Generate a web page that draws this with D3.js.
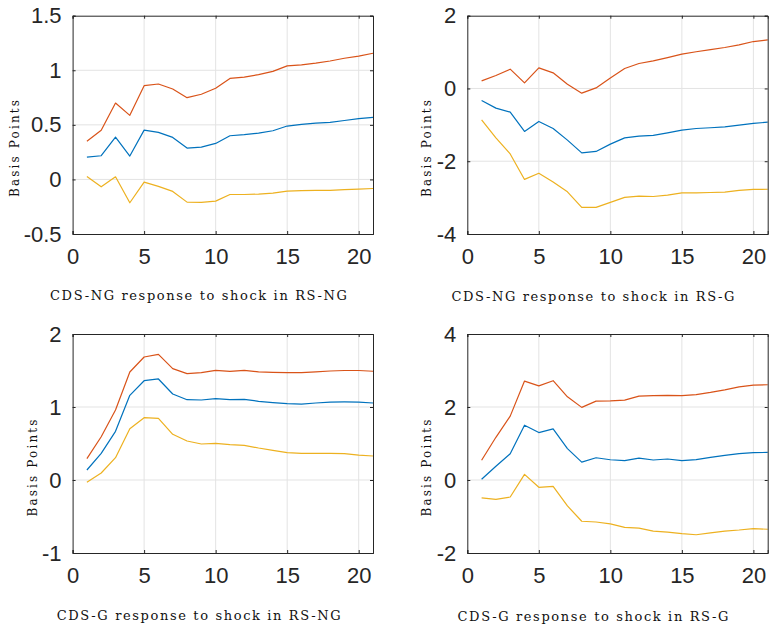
<!DOCTYPE html>
<html>
<head>
<meta charset="utf-8">
<script src="https://cdn.jsdelivr.net/npm/d3@7"></script>
<style>
  html, body { margin: 0; padding: 0; background: #fff; }
  svg { display: block; }
</style>
</head>
<body>
<script>
// ---------- data ----------
const horizons = [1,2,3,4,5,6,7,8,9,10,11,12,13,14,15,16,17,18,19,20,21];
const xTicks = [0,5,10,15,20];

const titles = [
  "CDS-NG response to shock in RS-NG",
  "CDS-NG response to shock in RS-G",
  "CDS-G response to shock in RS-NG",
  "CDS-G response to shock in RS-G"
];
const yLabel = "Basis Points";

const yTicks1 = [-0.5, 0, 0.5, 1, 1.5];
const yTicks2 = [-4, -2, 0, 2];
const yTicks3 = [-1, 0, 1, 2];
const yTicks4 = [-2, 0, 2, 4];

// panel 1: CDS-NG <- RS-NG
const p1Blue   = [0.205,0.217,0.388,0.214,0.452,0.431,0.385,0.287,0.296,0.33,0.40,0.41,0.425,0.446,0.489,0.505,0.515,0.523,0.54,0.557,0.569];
const p1Orange = [0.35,0.45,0.70,0.587,0.859,0.874,0.828,0.749,0.78,0.835,0.925,0.938,0.96,0.99,1.04,1.05,1.065,1.085,1.11,1.13,1.156];
const p1Yellow = [0.027,-0.068,0.024,-0.214,-0.025,-0.064,-0.11,-0.208,-0.211,-0.199,-0.138,-0.138,-0.135,-0.126,-0.107,-0.102,-0.10,-0.10,-0.093,-0.088,-0.083];

// panel 2: CDS-NG <- RS-G
const p2Blue   = [-0.33,-0.54,-0.65,-1.18,-0.907,-1.1,-1.42,-1.77,-1.73,-1.53,-1.357,-1.31,-1.29,-1.22,-1.146,-1.1,-1.08,-1.055,-1.01,-0.96,-0.926];
const p2Orange = [0.209,0.357,0.53,0.154,0.566,0.43,0.118,-0.129,0.016,0.29,0.55,0.687,0.76,0.85,0.942,1.01,1.07,1.126,1.2,1.29,1.335];
const p2Yellow = [-0.862,-1.36,-1.8,-2.5,-2.33,-2.57,-2.84,-3.27,-3.27,-3.13,-2.995,-2.96,-2.97,-2.93,-2.87,-2.87,-2.86,-2.85,-2.8,-2.775,-2.77];

// panel 3: CDS-G <- RS-NG
const p3Blue   = [0.137,0.365,0.667,1.16,1.36,1.384,1.178,1.1,1.096,1.114,1.1,1.105,1.078,1.06,1.046,1.04,1.055,1.068,1.07,1.068,1.055];
const p3Orange = [0.292,0.593,0.959,1.479,1.685,1.72,1.525,1.457,1.47,1.502,1.489,1.502,1.48,1.475,1.47,1.47,1.48,1.493,1.5,1.5,1.49];
const p3Yellow = [-0.032,0.096,0.306,0.703,0.854,0.845,0.626,0.534,0.493,0.502,0.485,0.475,0.438,0.406,0.374,0.365,0.365,0.365,0.36,0.342,0.329];

// panel 4: CDS-G <- RS-G
const p4Blue   = [0.02,0.375,0.72,1.5,1.3,1.4,0.86,0.49,0.61,0.555,0.53,0.6,0.548,0.575,0.53,0.557,0.62,0.675,0.72,0.75,0.755];
const p4Orange = [0.54,1.17,1.75,2.71,2.58,2.72,2.28,1.99,2.16,2.17,2.19,2.3,2.31,2.32,2.31,2.34,2.4,2.47,2.55,2.6,2.61];
const p4Yellow = [-0.49,-0.53,-0.466,0.155,-0.2,-0.174,-0.71,-1.13,-1.15,-1.2,-1.3,-1.32,-1.4,-1.43,-1.47,-1.5,-1.45,-1.4,-1.37,-1.33,-1.35];

// ---------- layout ----------
const W = 769, H = 628;
const colors = ["#0072BD", "#D95319", "#EDB120"];
const axisColor = "#262626";
const gridColor = "#e3e3e3";

const panels = [
  { x0: 72.6,  x1: 373,   y0: 15.7, y1: 234, yDom: [-0.5, 1.5], yTicks: yTicks1, series: [p1Blue, p1Orange, p1Yellow],
    title: titles[0], tx: 198.5, ty: 295, tw: 297, lx: 15,  ly: 148.5 },
  { x0: 467.3, x1: 767.7, y0: 15.7, y1: 234, yDom: [-4, 2],     yTicks: yTicks2, series: [p2Blue, p2Orange, p2Yellow],
    title: titles[1], tx: 593,   ty: 296, tw: 283, lx: 427, ly: 148.5 },
  { x0: 72.6,  x1: 373,   y0: 334,  y1: 553, yDom: [-1, 2],     yTicks: yTicks3, series: [p3Blue, p3Orange, p3Yellow],
    title: titles[2], tx: 198.7, ty: 615, tw: 284, lx: 33,  ly: 468 },
  { x0: 467.3, x1: 767.7, y0: 334,  y1: 553, yDom: [-2, 4],     yTicks: yTicks4, series: [p4Blue, p4Orange, p4Yellow],
    title: titles[3], tx: 593,   ty: 616, tw: 271, lx: 427, ly: 468 }
];

const svg = d3.select("body").append("svg")
  .attr("width", W).attr("height", H)
  .attr("viewBox", `0 0 ${W} ${H}`);

svg.append("rect").attr("width", W).attr("height", H).attr("fill", "#fff");

const tickFont = "'Liberation Sans', Arial, Helvetica, sans-serif";
const serifFont = "'DejaVu Serif', 'Liberation Serif', serif";

panels.forEach((p) => {
  const x = d3.scaleLinear().domain([0, 21]).range([p.x0, p.x1]);
  const y = d3.scaleLinear().domain(p.yDom).range([p.y1, p.y0]);
  const g = svg.append("g");

  // grid
  g.append("g").selectAll("line").data(xTicks.filter(t => t > 0)).join("line")
    .attr("x1", d => x(d)).attr("x2", d => x(d))
    .attr("y1", p.y0).attr("y2", p.y1)
    .attr("stroke", gridColor).attr("stroke-width", 1);
  g.append("g").selectAll("line").data(p.yTicks.filter(t => t > p.yDom[0] && t < p.yDom[1])).join("line")
    .attr("x1", p.x0).attr("x2", p.x1)
    .attr("y1", d => y(d)).attr("y2", d => y(d))
    .attr("stroke", gridColor).attr("stroke-width", 1);

  // lines
  const line = d3.line().x((d, i) => x(horizons[i])).y(d => y(d));
  p.series.forEach((s, k) => {
    g.append("path").datum(s)
      .attr("d", line)
      .attr("fill", "none")
      .attr("stroke", colors[k])
      .attr("stroke-width", 1.2)
      .attr("stroke-linejoin", "round");
  });

  // axes (ticks inward, box)
  const tl = 3;
  const bottom = d3.axisBottom(x).tickValues(xTicks).tickSize(-tl).tickPadding(14).tickFormat(d3.format("d"));
  const top = d3.axisTop(x).tickValues(xTicks).tickSize(-tl).tickFormat("");
  const left = d3.axisLeft(y).tickValues(p.yTicks).tickSize(-tl).tickPadding(11).tickFormat(d => String(d));
  const right = d3.axisRight(y).tickValues(p.yTicks).tickSize(-tl).tickFormat("");

  const axes = [
    g.append("g").attr("transform", `translate(0,${p.y1})`).call(bottom),
    g.append("g").attr("transform", `translate(0,${p.y0})`).call(top),
    g.append("g").attr("transform", `translate(${p.x0},0)`).call(left),
    g.append("g").attr("transform", `translate(${p.x1},0)`).call(right)
  ];
  axes.forEach(a => {
    a.select(".domain").attr("stroke", axisColor).attr("stroke-width", 1);
    a.selectAll(".tick line").attr("stroke", axisColor).attr("stroke-width", 1);
    a.selectAll(".tick text")
      .attr("fill", axisColor)
      .style("font-family", tickFont)
      .style("font-size", "22px");
  });
  axes[0].selectAll(".tick text").attr("dy", "0.71em");

  // y label
  g.append("text")
    .attr("transform", `translate(${p.lx},${p.ly}) rotate(-90)`)
    .attr("text-anchor", "middle")
    .attr("dominant-baseline", "central")
    .attr("textLength", 97)
    .attr("lengthAdjust", "spacing")
    .style("font-family", serifFont)
    .style("font-size", "12px")
    .attr("fill", "#111")
    .text(yLabel);

  // x label / caption
  g.append("text")
    .attr("x", p.tx).attr("y", p.ty)
    .attr("text-anchor", "middle")
    .attr("dominant-baseline", "central")
    .attr("textLength", p.tw)
    .attr("lengthAdjust", "spacing")
    .style("font-family", serifFont)
    .style("font-size", "13px")
    .attr("fill", "#111")
    .text(p.title);
});
</script>
</body>
</html>
